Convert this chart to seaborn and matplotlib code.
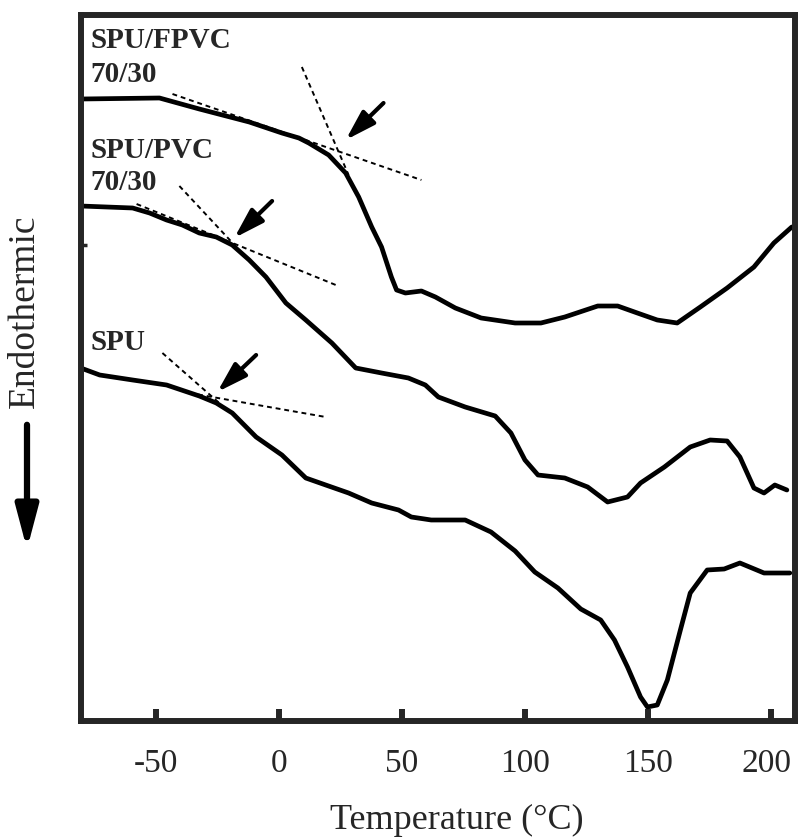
import numpy as np
import pandas as pd
import matplotlib
matplotlib.use("Agg")
import matplotlib.pyplot as plt
import matplotlib.transforms as mtransforms
import seaborn as sns

# DSC curves (heat flow in arbitrary units)
temp_fpvc = [-80.6, -48.6, -32.4, -12.1, 1.2, 8.1, 12.1, 20.2, 27.1, 32.4, 37.7, 41.7,
             45.7, 47.8, 51.4, 57.9, 63.6, 71.7, 82.2, 96.0, 106.5, 116.2, 129.6, 137.7,
             145.7, 153.8, 161.9, 171.3, 182.2, 193.1, 201.2, 208.5]
heat_fpvc = [623, 624, 613, 600, 589, 584, 579, 567, 549, 525, 495, 475,
             445, 432, 429, 431, 425, 414, 404, 399, 399, 405, 416, 416,
             409, 402, 399, 415, 434, 455, 479, 495]

temp_pvc = [-80.6, -59.5, -52.6, -45.7, -39.3, -32.4, -25.5, -19.0, -12.1, -5.3, 2.8, 10.9,
            21.5, 31.2, 41.7, 52.6, 59.5, 64.8, 75.7, 87.9, 94.3, 100.0, 105.3, 116.2,
            125.5, 133.6, 141.7, 147.0, 156.7, 167.2, 175.3, 182.2, 187.4, 193.1, 197.2,
            201.6, 206.5]
heat_pvc = [516, 514, 509, 502, 497, 489, 485, 477, 462, 445, 419, 402,
            379, 354, 349, 344, 337, 325, 315, 306, 289, 262, 247, 244,
            235, 220, 225, 239, 255, 275, 282, 281, 265, 234, 229,
            237, 232]

temp_spu = [-80.6, -72.9, -59.5, -45.7, -32.4, -25.5, -19.0, -9.3, 1.2, 10.9, 19.0, 28.3,
            37.7, 48.6, 53.8, 61.9, 75.7, 86.2, 96.0, 104.0, 113.4, 122.7, 130.8, 136.4,
            141.7, 147.0, 149.8, 153.8, 157.9, 163.2, 167.2, 174.1, 181.0, 187.4, 197.2, 207.7]
heat_spu = [354, 347, 342, 337, 326, 319, 309, 285, 267, 244, 237, 229,
            219, 212, 205, 202, 202, 190, 171, 150, 134, 113, 102, 82,
            55, 25, 15, 17, 42, 92, 129, 152, 153, 159, 149, 149]

# tangent construction lines ((T1, T2), (h1, h2))
tangents = [
    ((9.3, 28.3), (655, 547)),
    ((-43.3, 57.9), (628, 542)),
    ((-40.5, -16.2), (536, 472)),
    ((-57.9, 23.1), (518, 437)),
    ((-47.4, -24.3), (369, 319)),
    ((-36.4, 19.0), (329, 305)),
]
# arrows pointing at Tg: (tail T, tail h, tip T, tip h)
arrows = [
    (42.5, 619, 27.1, 582),
    (-2.8, 521, -18.2, 484),
    (-9.3, 367, -25.1, 330),
]
labels = ["SPU/FPVC", "70/30", "SPU/PVC", "70/30", "SPU"]
label_pos = [(-76.5, 674), (-76.5, 640), (-76.5, 564), (-76.5, 532), (-76.5, 372)]

xticks = [-50, 0, 50, 100, 150, 200]

sns.set_style("ticks")
plt.rcParams['font.family'] = ['Liberation Serif', 'DejaVu Serif']

fig = plt.figure(figsize=(7.98, 8.39), dpi=100)
ax = fig.add_axes([81 / 798, 1 - 721 / 839, 714 / 798, 706 / 839])

curves = [(temp_fpvc, heat_fpvc), (temp_pvc, heat_pvc), (temp_spu, heat_spu)]
for t, h in curves:
    df = pd.DataFrame({'T': t, 'H': h})
    sns.lineplot(data=df, x='T', y='H', ax=ax, color='black', linewidth=3.4,
                 sort=False, estimator=None)

for (tx, hy) in tangents:
    ax.plot(tx, hy, color='black', linewidth=1.4, linestyle=(0, (2.5, 2)))

for (t0, h0, t1, h1) in arrows:
    ax.annotate('', xy=(t1, h1), xytext=(t0, h0),
                arrowprops=dict(arrowstyle='-|>,head_length=1.3,head_width=0.4',
                                mutation_scale=14, color='black', lw=3,
                                shrinkA=0, shrinkB=0))

for txt, (tx, hy) in zip(labels, label_pos):
    ax.text(tx, hy, txt, fontsize=21, fontweight='bold', ha='left', va='baseline')

ax.set_xlim(-80.5, 209.8)
ax.set_ylim(1, 707)
ax.set_xticks(xticks)
ax.set_xticklabels([str(v) for v in xticks])
ax.set_yticks([477])
ax.set_yticklabels([''])
ax.tick_params(axis='x', direction='in', length=9, width=4.3, labelsize=24, pad=20)
ax.tick_params(axis='y', direction='in', length=4, width=2.5)
for sp in ax.spines.values():
    sp.set_linewidth(4.3)
    sp.set_visible(True)

# last tick label sits a little left of its tick in the original
lab = ax.get_xticklabels()[-1]
lab.set_transform(lab.get_transform() +
                  mtransforms.ScaledTranslation(-4 / 100, 0, fig.dpi_scale_trans))

ax.set_xlabel('Temperature (°C)', fontsize=26)
ax.xaxis.set_label_coords(0.527, -0.118)
ax.set_ylabel('')

fig.text(25 / 798, 1 - 311 / 839, 'Endothermic', rotation=90, fontsize=27,
         ha='center', va='center')
fig.patches.append(matplotlib.patches.FancyArrowPatch(
    (27 / 798, 1 - 422 / 839), (27 / 798, 1 - 552 / 839), transform=fig.transFigure,
    arrowstyle='-|>,head_length=1.7,head_width=0.45', mutation_scale=15,
    color='black', lw=4.5))

fig.savefig('out.png', dpi=100)
